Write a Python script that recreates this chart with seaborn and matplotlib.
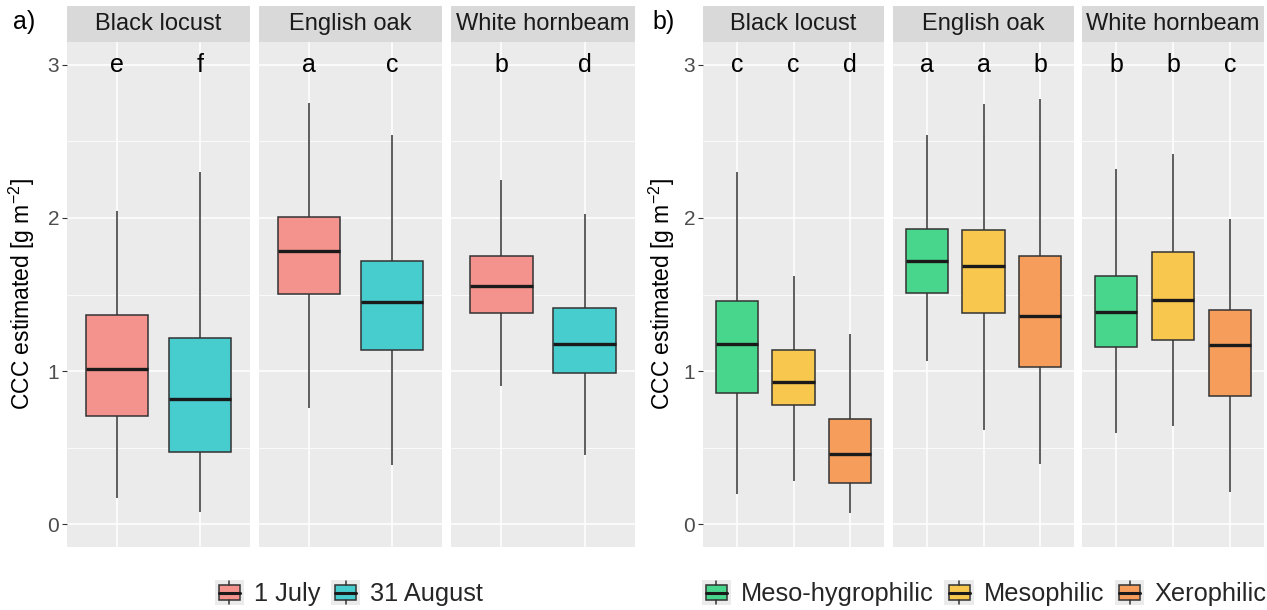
import numpy as np
import pandas as pd
import matplotlib
matplotlib.use("Agg")
import matplotlib.pyplot as plt
from matplotlib.patches import Rectangle
from matplotlib.lines import Line2D
from matplotlib.legend_handler import HandlerBase
import seaborn as sns

# ---------------------------------------------------------------- data
species = ["Black locust", "English oak", "White hornbeam"]

# (a) canopy chlorophyll content by sampling date
dates = ["1 July", "31 August"]
date_colors = ["#F4938D", "#48CDCF"]
date_low = [[0.17, 0.08], [0.76, 0.39], [0.90, 0.45]]
date_q1 = [[0.705, 0.474], [1.504, 1.135], [1.378, 0.987]]
date_med = [[1.015, 0.815], [1.785, 1.448], [1.556, 1.178]]
date_q3 = [[1.365, 1.213], [2.007, 1.718], [1.750, 1.411]]
date_high = [[2.045, 2.30], [2.75, 2.544], [2.246, 2.024]]
date_letters = [["e", "f"], ["a", "c"], ["b", "d"]]

# (b) canopy chlorophyll content by site moisture class
moisture = ["Meso-hygrophilic", "Mesophilic", "Xerophilic"]
moist_colors = ["#48D68C", "#F8C84E", "#F79D5B"]
moist_low = [[0.20, 0.284, 0.076], [1.063, 0.615, 0.391], [0.598, 0.639, 0.209]]
moist_q1 = [[0.855, 0.780, 0.267], [1.507, 1.376, 1.024], [1.155, 1.202, 0.837]]
moist_med = [[1.176, 0.926, 0.459], [1.718, 1.685, 1.361], [1.385, 1.461, 1.168]]
moist_q3 = [[1.455, 1.135, 0.689], [1.928, 1.924, 1.750], [1.624, 1.778, 1.398]]
moist_high = [[2.30, 1.622, 1.241], [2.544, 2.746, 2.774], [2.316, 2.42, 1.992]]
moist_letters = [["c", "c", "d"], ["a", "a", "b"], ["b", "b", "c"]]

y_ticks = [0, 1, 2, 3]
y_label = r"CCC estimated [g m$^{-2}$]"


def long_frame(groups, low, q1, med, q3, high):
    """Five summary values per box; quartiles of these points equal the summary."""
    rows = []
    for i, sp in enumerate(species):
        for j, g in enumerate(groups):
            for v in (low[i][j], q1[i][j], med[i][j], q3[i][j], high[i][j]):
                rows.append({"species": sp, "group": g, "value": v})
    return pd.DataFrame(rows)


df_dates = long_frame(dates, date_low, date_q1, date_med, date_q3, date_high)
df_moist = long_frame(moisture, moist_low, moist_q1, moist_med, moist_q3, moist_high)

# ---------------------------------------------------------------- style
sns.set_theme(style="darkgrid")
plt.rcParams["font.family"] = ["Liberation Sans", "DejaVu Sans"]
plt.rcParams["mathtext.default"] = "regular"

W, H = 1267, 610
fig = plt.figure(figsize=(W / 100, H / 100), dpi=100)
fig.patch.set_facecolor("white")

PANEL_TOP, PANEL_BOT = 42, 547
STRIP_H = 36
YLIM = (-0.148, 3.148)
EDGE = "#333333"


def px_axes(x0, x1):
    return fig.add_axes([x0 / W, 1 - PANEL_BOT / H, (x1 - x0) / W,
                         (PANEL_BOT - PANEL_TOP) / H])


def draw_panel(df, groups, colors, letters, facet_x):
    n = len(groups)
    axes_h = PANEL_BOT - PANEL_TOP
    for k, (sp, (x0, x1)) in enumerate(zip(species, facet_x)):
        ax = px_axes(x0, x1)
        ax.set_facecolor("#EBEBEB")
        sub = df[df["species"] == sp]
        sns.boxplot(data=sub, x="group", y="value", hue="group",
                    order=groups, hue_order=groups, palette=colors,
                    saturation=1, width=0.75, whis=(0, 100), dodge=False,
                    legend=False, linecolor=EDGE, linewidth=1.1,
                    showcaps=False, ax=ax,
                    medianprops=dict(color="#1A1A1A", linewidth=2.4),
                    whiskerprops=dict(color=EDGE, linewidth=1.1))
        ax.set_xlim(-0.6, n - 1 + 0.6)
        ax.set_ylim(*YLIM)
        ax.set_yticks(y_ticks)
        ax.set_yticks([0.5, 1.5, 2.5], minor=True)
        ax.set_xticks(range(n))
        ax.grid(which="major", color="white", linewidth=1.1)
        ax.grid(which="minor", axis="y", color="white", linewidth=0.55)
        ax.set_axisbelow(True)
        for s in ax.spines.values():
            s.set_visible(False)
        ax.set_xlabel("")
        ax.set_ylabel("")
        ax.tick_params(axis="x", length=0, labelbottom=False)
        ax.tick_params(axis="y", which="minor", length=0)
        if k == 0:
            ax.tick_params(axis="y", which="major", length=3.5, width=0.8,
                           color=EDGE, labelcolor="#4D4D4D", labelsize=15,
                           pad=2, left=True)
        else:
            ax.tick_params(axis="y", which="major", length=0,
                           labelleft=False)
        # facet strip
        ax.add_patch(Rectangle((0, 1), 1, STRIP_H / axes_h,
                               transform=ax.transAxes, clip_on=False,
                               facecolor="#D9D9D9", edgecolor="none"))
        ax.text(0.5, 1 + STRIP_H / 2 / axes_h, sp, transform=ax.transAxes,
                ha="center", va="center", fontsize=17, color="#1A1A1A")
        # significance letters
        for j, lt in enumerate(letters[k]):
            ax.text(j, 3.0, lt, ha="center", va="center", fontsize=18,
                    color="black")


class BoxKey(HandlerBase):
    def create_artists(self, legend, orig_handle, xdescent, ydescent,
                       width, height, fontsize, trans):
        x0, y0 = -xdescent, -ydescent
        cx = x0 + width / 2
        bg = Rectangle((x0, y0), width, height, facecolor="#EBEBEB",
                       edgecolor="none", transform=trans)
        box = Rectangle((x0 + 0.14 * width, y0 + 0.2 * height),
                        0.72 * width, 0.6 * height,
                        facecolor=orig_handle.get_facecolor(),
                        edgecolor=EDGE, linewidth=1.1, transform=trans)
        med = Line2D([x0 + 0.14 * width, x0 + 0.86 * width],
                     [y0 + height / 2] * 2, color="#1A1A1A", linewidth=2.2,
                     transform=trans)
        w1 = Line2D([cx, cx], [y0 + 0.06 * height, y0 + 0.2 * height],
                    color=EDGE, linewidth=1.1, transform=trans)
        w2 = Line2D([cx, cx], [y0 + 0.8 * height, y0 + 0.94 * height],
                    color=EDGE, linewidth=1.1, transform=trans)
        return [bg, box, med, w1, w2]


def add_legend(labels, colors, cx):
    handles = [Rectangle((0, 0), 1, 1, facecolor=c) for c in colors]
    fig.legend(handles, labels, loc="center",
               bbox_to_anchor=(cx / W, 1 - 593 / H), ncol=len(labels),
               frameon=False, fontsize=18.3,
               handler_map={Rectangle: BoxKey()},
               handlelength=1.15, handleheight=1.15, handletextpad=0.4,
               columnspacing=0.42, borderpad=0, borderaxespad=0)


# ---------------------------------------------------------------- panels
draw_panel(df_dates, dates, date_colors, date_letters,
           [(67, 250), (259, 442), (451, 635)])
draw_panel(df_moist, moisture, moist_colors, moist_letters,
           [(703, 884), (893, 1074), (1082, 1264)])

add_legend(dates, date_colors, 349)
add_legend(moisture, moist_colors, 984)

for x_lab, x_tag, tag in [(22, 24, "a)"), (662, 664, "b)")]:
    fig.text(x_lab / W, 1 - 294 / H, y_label, rotation=90, ha="center",
             va="center", fontsize=16.5, color="black")
    fig.text(x_tag / W, 1 - 22 / H, tag, ha="center", va="center",
             fontsize=18, color="black")

fig.savefig("out.png", dpi=100, facecolor="white")
